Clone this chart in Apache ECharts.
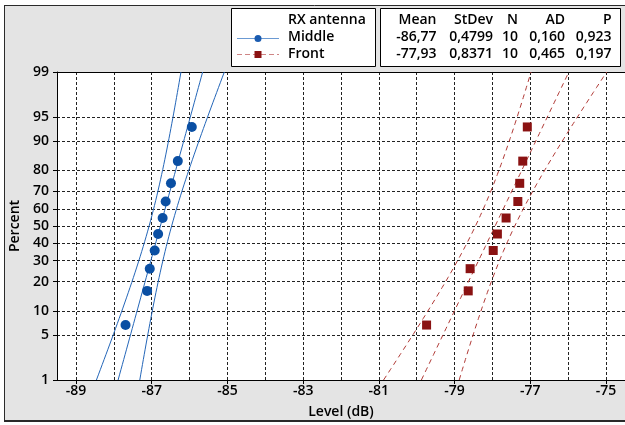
<!DOCTYPE html>
<html><head><meta charset="utf-8">
<script src="https://cdn.jsdelivr.net/npm/echarts@6/dist/echarts.min.js"></script>
<style>html,body{margin:0;padding:0;background:#fff}#c{width:625px;height:425px}</style>
</head><body><div id="c"></div>
<script>
// ---- data ----
const percentPositions = [6.73, 16.35, 25.96, 35.58, 45.19, 54.81, 64.42, 74.04, 83.65, 93.27];
const middleLevels = [-87.69, -87.12, -87.05, -86.92, -86.83, -86.71, -86.63, -86.49, -86.31, -85.94];
const frontLevels  = [-79.74, -78.64, -78.59, -77.98, -77.87, -77.64, -77.33, -77.28, -77.20, -77.08];
const seriesNames = ['Middle', 'Front'];
const legendTitle = 'RX antenna';
const statHeaders = ['Mean', 'StDev', 'N', 'AD', 'P'];
const statMean  = [-86.77, -77.93];
const statStDev = [0.4799, 0.8371];
const statN     = [10, 10];
const statAD    = [0.160, 0.465];
const statP     = [0.923, 0.197];
const percentTicks = [1, 5, 10, 20, 30, 40, 50, 60, 70, 80, 90, 95, 99];
const levelLabelTicks = [-89, -87, -85, -83, -81, -79, -77, -75];
const levelGridTicks = [-89, -88, -87, -86, -85, -84, -83, -82, -81, -80, -79, -78, -77, -76, -75];
const xTitle = 'Level (dB)';
const yTitle = 'Percent';

// inverse normal CDF (probability-plot axis transform)
function probit(p) {
  const a=[-3.969683028665376e+01,2.209460984245205e+02,-2.759285104469687e+02,1.383577518672690e+02,-3.066479806614716e+01,2.506628277459239e+00];
  const b=[-5.447609879822406e+01,1.615858368580409e+02,-1.556989798598866e+02,6.680131188771972e+01,-1.328068155288572e+01];
  const c=[-7.784894002430293e-03,-3.223964580411365e-01,-2.400758277161838e+00,-2.549732539343734e+00,4.374664141464968e+00,2.938163982698783e+00];
  const d=[7.784695709041462e-03,3.224671290700398e-01,2.445134137142996e+00,3.754408661907416e+00];
  const pl=0.02425, ph=1-pl; let q,r;
  if (p<pl){q=Math.sqrt(-2*Math.log(p));return (((((c[0]*q+c[1])*q+c[2])*q+c[3])*q+c[4])*q+c[5])/((((d[0]*q+d[1])*q+d[2])*q+d[3])*q+1);}
  if (p<=ph){q=p-0.5;r=q*q;return (((((a[0]*r+a[1])*r+a[2])*r+a[3])*r+a[4])*r+a[5])*q/(((((b[0]*r+b[1])*r+b[2])*r+b[3])*r+b[4])*r+1);}
  q=Math.sqrt(-2*Math.log(1-p));return -(((((c[0]*q+c[1])*q+c[2])*q+c[3])*q+c[4])*q+c[5])/((((d[0]*q+d[1])*q+d[2])*q+d[3])*q+1);
}
const tickZ = percentTicks.map(p => probit(p / 100));
const zMin = tickZ[0], zMax = tickZ[tickZ.length - 1];

// fitted normal line and 95% confidence band from the table's Mean / StDev / N
function fitCurves(k) {
  const mu = statMean[k], s = statStDev[k], n = statN[k];
  const fit = [], lo = [], hi = [];
  const steps = 60;
  for (let i = 0; i <= steps; i++) {
    const z = zMin + (zMax - zMin) * i / steps;
    const half = 1.96 * s / Math.sqrt(n) * Math.sqrt(1 + z * z / 2);
    fit.push([mu + z * s, z]); lo.push([mu + z * s - half, z]); hi.push([mu + z * s + half, z]);
  }
  return {fit, lo, hi};
}
const mid = fitCurves(0), fr = fitCurves(1);
const FONT = '"Open Sans", "Noto Sans", sans-serif';
const W = 600;
const txt = '#000';
const blueLine = '#2466b8', blueDot = '#0a4fa3';
const redLine = '#b03a36', redDot = '#8a1212';

function lineSeries(data, color, dashed) {
  return {type: 'line', data, showSymbol: false, symbol: 'none', silent: true, z: 3,
    lineStyle: {color, width: 1, type: dashed ? [5, 4] : 'solid'}};
}

const fmt = (v, d) => v.toFixed(d).replace('.', ',');
const statCols = [436.5, 493, 518, 565, 611.5];
const rowY = [20, 37, 54];
const tf = W + ' 14px ' + FONT;
const graphics = [
  {type: 'rect', shape: {x: 0, y: 0, width: 625, height: 5}, style: {fill: '#fff'}, silent: true},
  {type: 'rect', shape: {x: 0, y: 0, width: 4, height: 425}, style: {fill: '#fff'}, silent: true},
  {type: 'rect', shape: {x: 0, y: 422, width: 625, height: 3}, style: {fill: '#fff'}, silent: true},
  {type: 'line', shape: {x1: 4.5, y1: 5, x2: 4.5, y2: 421}, style: {stroke: '#2a2a2a', lineWidth: 1}, silent: true},
  {type: 'line', shape: {x1: 4, y1: 5.5, x2: 625, y2: 5.5}, style: {stroke: '#2a2a2a', lineWidth: 1}, silent: true},
  {type: 'line', shape: {x1: 4, y1: 421, x2: 625, y2: 421}, style: {stroke: '#2a2a2a', lineWidth: 2}, silent: true},
  {type: 'rect', shape: {x: 231.5, y: 8.5, width: 144, height: 58}, style: {fill: '#fff', stroke: '#000', lineWidth: 1}, silent: true},
  {type: 'rect', shape: {x: 380.5, y: 8.5, width: 240, height: 58}, style: {fill: '#fff', stroke: '#000', lineWidth: 1}, silent: true},
  {type: 'text', style: {text: legendTitle, x: 288, y: rowY[0], fill: txt, font: tf, textVerticalAlign: 'middle', verticalAlign: 'middle'}, silent: true},
  {type: 'line', shape: {x1: 237, y1: 38.5, x2: 279, y2: 38.5}, style: {stroke: '#6b9ad3', lineWidth: 1}, silent: true},
  {type: 'circle', shape: {cx: 258, cy: 38.5, r: 3.5}, style: {fill: '#1a5bb0'}, silent: true},
  {type: 'text', style: {text: seriesNames[0], x: 288, y: rowY[1], fill: txt, font: tf, textVerticalAlign: 'middle', verticalAlign: 'middle'}, silent: true},
  {type: 'line', shape: {x1: 237, y1: 54.5, x2: 279, y2: 54.5}, style: {stroke: '#cf8585', lineWidth: 1, lineDash: [5, 3]}, silent: true},
  {type: 'rect', shape: {x: 254.5, y: 51, width: 7, height: 7}, style: {fill: redDot}, silent: true},
  {type: 'text', style: {text: seriesNames[1], x: 288, y: rowY[2], fill: txt, font: tf, textVerticalAlign: 'middle', verticalAlign: 'middle'}, silent: true}
];
statHeaders.forEach((h, j) => graphics.push({type: 'text', silent: true,
  style: {text: h, x: statCols[j], y: rowY[0], fill: txt, font: tf, textAlign: 'right', align: 'right', textVerticalAlign: 'middle', verticalAlign: 'middle'}}));
for (let k = 0; k < 2; k++) {
  const vals = [fmt(statMean[k], 2), fmt(statStDev[k], 4), String(statN[k]), fmt(statAD[k], 3), fmt(statP[k], 3)];
  vals.forEach((v, j) => graphics.push({type: 'text', silent: true,
    style: {text: v, x: statCols[j], y: rowY[k + 1], fill: txt, font: tf, textAlign: 'right', align: 'right', textVerticalAlign: 'middle', verticalAlign: 'middle'}}));
}

const gridStyle = {color: '#222', width: 1, type: [3, 2]};
const option = {
  animation: false,
  backgroundColor: '#e4e4e4',
  textStyle: {fontFamily: FONT},
  grid: {left: 57, top: 72, bottom: 45, right: 0, show: true, backgroundColor: '#fff', borderWidth: 0},
  xAxis: [{
    type: 'value', min: -89.5, max: -74.5, position: 'bottom',
    axisLine: {show: true, onZero: false, lineStyle: {color: '#000', width: 1}},
    axisTick: {show: true, length: 4, customValues: levelLabelTicks, lineStyle: {color: '#000'}},
    axisLabel: {customValues: levelLabelTicks, margin: 4, color: txt, fontSize: 14, fontWeight: W, fontFamily: FONT},
    splitLine: {show: false},
    name: xTitle, nameLocation: 'middle', nameGap: 25,
    nameTextStyle: {color: txt, fontSize: 14, fontWeight: W, fontFamily: FONT}
  }, {
    type: 'value', min: -89.5, max: -74.5, position: 'top',
    axisLine: {show: true, onZero: false, lineStyle: {color: '#000', width: 1}},
    axisTick: {show: false, customValues: levelGridTicks},
    axisLabel: {show: false, customValues: levelGridTicks},
    splitLine: {show: true, customValues: levelGridTicks, lineStyle: gridStyle}
  }],
  yAxis: {
    type: 'value', min: zMin, max: zMax,
    axisLine: {show: true, onZero: false, lineStyle: {color: '#000', width: 1}},
    axisTick: {show: true, length: 4, customValues: tickZ, lineStyle: {color: '#000'}},
    axisLabel: {customValues: tickZ, margin: 8, color: txt, fontSize: 14, fontWeight: W, fontFamily: FONT,
      formatter: v => {
        let best = 0;
        tickZ.forEach((z, i) => { if (Math.abs(z - v) < Math.abs(tickZ[best] - v)) best = i; });
        return String(percentTicks[best]);
      }},
    splitLine: {show: true, customValues: tickZ, lineStyle: gridStyle},
    name: yTitle, nameLocation: 'middle', nameGap: 32, nameRotate: 90,
    nameTextStyle: {color: txt, fontSize: 14, fontWeight: W, fontFamily: FONT}
  },
  series: [
    lineSeries(mid.lo, blueLine, false),
    lineSeries(mid.fit, blueLine, false),
    lineSeries(mid.hi, blueLine, false),
    lineSeries(fr.lo, redLine, true),
    lineSeries(fr.fit, redLine, true),
    lineSeries(fr.hi, redLine, true),
    {type: 'scatter', name: seriesNames[0], symbol: 'circle', symbolSize: 10, z: 5,
      itemStyle: {color: blueDot, opacity: 1},
      data: middleLevels.map((x, i) => [x, probit(percentPositions[i] / 100)])},
    {type: 'scatter', name: seriesNames[1], symbol: 'rect', symbolSize: 9, z: 5,
      itemStyle: {color: redDot, opacity: 1},
      data: frontLevels.map((x, i) => [x, probit(percentPositions[i] / 100)])}
  ],
  graphic: {elements: graphics}
};
const chart = echarts.init(document.getElementById('c'), null, {renderer: 'canvas'});
chart.setOption(option);
</script>
</body></html>
